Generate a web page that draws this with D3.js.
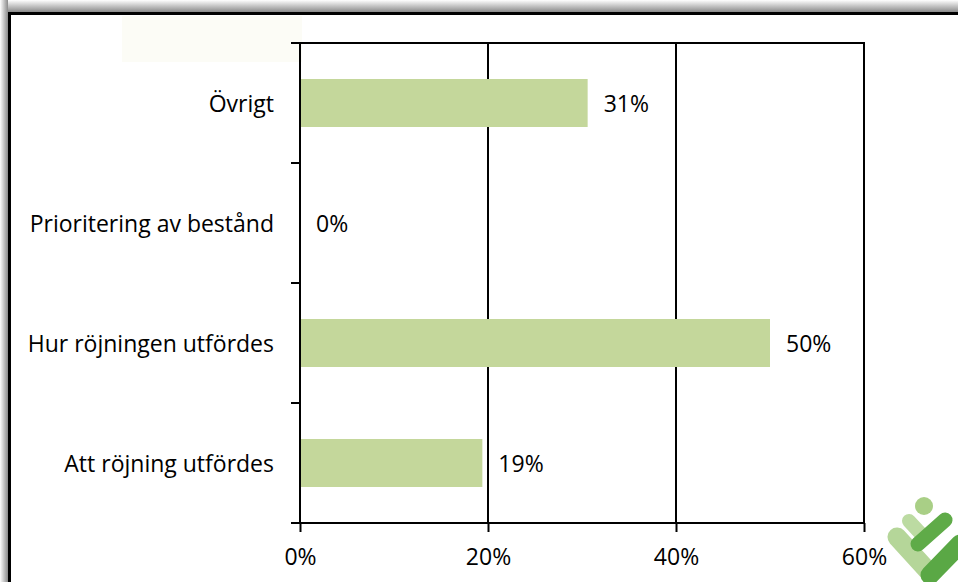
<!DOCTYPE html>
<html lang="sv">
<head>
    <meta charset="UTF-8">
    <title>Diagram</title>
    <script src="https://d3js.org/d3.v7.min.js"></script>
    <style>
        body { margin: 0; background: #fff; }
        svg { display: block; font-family: "Open Sans", Lato, sans-serif; }
    </style>
</head>
<body>
<div id="chart"></div>
<script>
    // --- donnees ---
    var categories = ["Övrigt", "Prioritering av bestånd", "Hur röjningen utfördes", "Att röjning utfördes"];
    var valeurs = [0.306, 0, 0.5, 0.194];
    var etiquettes = ["31%", "0%", "50%", "19%"];
    var ticksX = [0, 0.2, 0.4, 0.6];

    var W = 958, H = 582;
    var taille = 23; // taille du texte
    var svg = d3.select("#chart").append("svg").attr("width", W).attr("height", H);

    // ombre + cadre
    var defs = svg.append("defs");
    var gTop = defs.append("linearGradient").attr("id", "ombreH").attr("x1", 0).attr("y1", 0).attr("x2", 0).attr("y2", 1);
    gTop.append("stop").attr("offset", "0%").attr("stop-color", "#ffffff");
    gTop.append("stop").attr("offset", "100%").attr("stop-color", "#8a8a8a");
    var gLeft = defs.append("linearGradient").attr("id", "ombreV").attr("x1", 0).attr("y1", 0).attr("x2", 1).attr("y2", 0);
    gLeft.append("stop").attr("offset", "0%").attr("stop-color", "#ffffff");
    gLeft.append("stop").attr("offset", "100%").attr("stop-color", "#8a8a8a");
    svg.append("rect").attr("x", 0).attr("y", 0).attr("width", W).attr("height", 12).attr("fill", "url(#ombreH)");
    svg.append("rect").attr("x", 0).attr("y", 0).attr("width", 8).attr("height", H).attr("fill", "url(#ombreV)");
    svg.append("rect").attr("x", 9.5).attr("y", 13.5).attr("width", W + 10).attr("height", H + 10)
        .attr("fill", "#fff").attr("stroke", "#000").attr("stroke-width", 3);
    // zone titre presque invisible
    svg.append("rect").attr("x", 122).attr("y", 16).attr("width", 180).attr("height", 46).attr("fill", "#fcfcf6");

    // --- echelles ---
    var x = d3.scaleLinear().domain([0, 0.6]).range([300, 864]);
    var y = d3.scaleBand().domain(categories).range([43, 523]).paddingInner(0.6).paddingOuter(0.3);

    // grille verticale
    svg.append("g").selectAll("line").data(ticksX.slice(1)).enter().append("line")
        .attr("x1", d => x(d)).attr("x2", d => x(d)).attr("y1", 43).attr("y2", 523)
        .attr("stroke", "#000").attr("stroke-width", 2);
    // ligne du haut
    svg.append("line").attr("x1", 292).attr("x2", x(0.6) + 1).attr("y1", 43).attr("y2", 43)
        .attr("stroke", "#000").attr("stroke-width", 2);

    // barres
    svg.append("g").selectAll("rect").data(categories).enter().append("rect")
        .attr("x", x(0)).attr("y", d => y(d))
        .attr("width", (d, i) => x(valeurs[i]) - x(0)).attr("height", y.bandwidth())
        .attr("fill", "#c4d79b");

    // etiquettes des valeurs
    svg.append("g").selectAll("text").data(categories).enter().append("text")
        .attr("x", (d, i) => x(valeurs[i]) + 16).attr("y", d => y(d) + y.bandwidth() / 2 + 1)
        .attr("dy", "0.35em").attr("font-size", taille).attr("fill", "#000")
        .text((d, i) => etiquettes[i]);

    // axe Y
    var pas = y.step();
    svg.append("line").attr("x1", 300).attr("x2", 300).attr("y1", 42).attr("y2", 524)
        .attr("stroke", "#000").attr("stroke-width", 2);
    svg.append("g").selectAll("line").data(d3.range(categories.length + 1)).enter().append("line")
        .attr("x1", 291).attr("x2", 300).attr("y1", i => 43 + i * pas).attr("y2", i => 43 + i * pas)
        .attr("stroke", "#000").attr("stroke-width", 2);
    svg.append("g").selectAll("text").data(categories).enter().append("text")
        .attr("x", 274).attr("y", d => y(d) + y.bandwidth() / 2 + 1)
        .attr("dy", "0.35em").attr("text-anchor", "end").attr("font-size", taille).attr("fill", "#000")
        .text(d => d);

    // axe X
    var axeX = d3.axisBottom(x).tickValues(ticksX).tickFormat(d3.format(".0%")).tickSize(9).tickSizeOuter(0);
    var gX = svg.append("g").attr("transform", "translate(0,523)").call(axeX);
    gX.select(".domain").attr("d", "M291,0H" + (x(0.6) + 1)).attr("stroke", "#000").attr("stroke-width", 2);
    gX.selectAll(".tick line").attr("stroke", "#000").attr("stroke-width", 2);
    gX.selectAll(".tick text").attr("font-size", taille).attr("font-family", "'Open Sans', sans-serif")
        .attr("fill", "#000").attr("y", 26).attr("dy", "0.71em");

    // logo
    var logo = svg.append("g").attr("stroke-linecap", "round");
    logo.append("circle").attr("cx", 924).attr("cy", 506).attr("r", 9).attr("fill", "#a9cf86");
    logo.append("line").attr("x1", 897).attr("y1", 537).attr("x2", 928).attr("y2", 571)
        .attr("stroke", "#b5d699").attr("stroke-width", 19);
    logo.append("line").attr("x1", 909).attr("y1", 521).attr("x2", 922).attr("y2", 535)
        .attr("stroke", "#bcdba2").attr("stroke-width", 14);
    logo.append("line").attr("x1", 918).attr("y1", 544).attr("x2", 945).attr("y2", 520)
        .attr("stroke", "#5fab48").attr("stroke-width", 15);
    logo.append("line").attr("x1", 930).attr("y1", 575).attr("x2", 960).attr("y2", 544)
        .attr("stroke", "#5aa845").attr("stroke-width", 19);
</script>
</body>
</html>
